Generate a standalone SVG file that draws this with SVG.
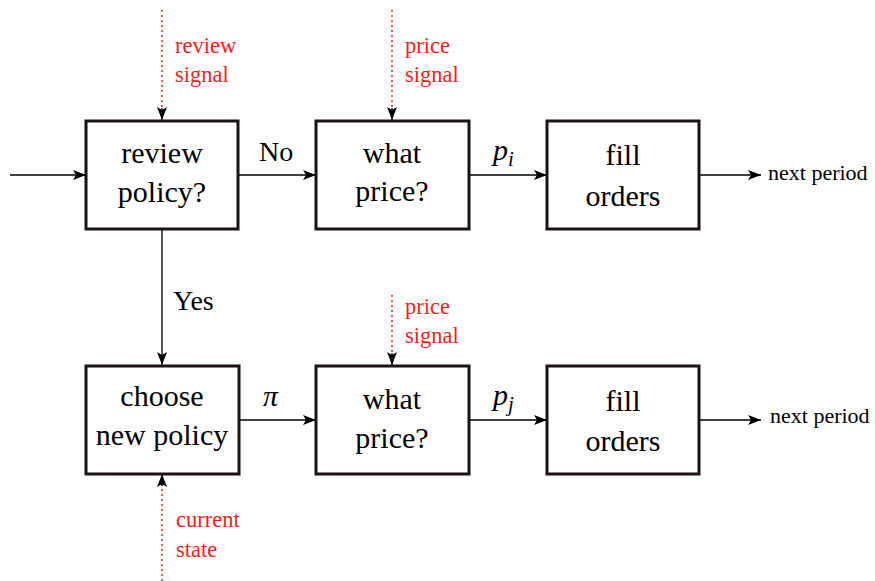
<svg xmlns="http://www.w3.org/2000/svg" width="875" height="581" viewBox="0 0 875 581">
<defs>
<marker id="ah" markerWidth="13" markerHeight="10" refX="13" refY="5" orient="auto" markerUnits="userSpaceOnUse">
<path d="M0,0 L13,5 L0,10 L3,5 Z" fill="#000"/>
</marker>
</defs>
<style>
text{font-family:'Liberation Serif','Times New Roman','DejaVu Serif',serif}
.box{fill:#fff;stroke:#1a1311;stroke-width:3}
.t{font-size:30px;fill:#000;text-anchor:middle}
.lbl{font-size:28px;fill:#000}
.m{font-style:italic;fill:#000}
.np{font-size:22px;fill:#000}
.red{font-size:22.5px;fill:#ff1a1a}
.c{stroke:#000;stroke-width:1.3;fill:none;marker-end:url(#ah)}
.d{stroke:#ff1a1a;stroke-width:1.5;stroke-dasharray:2,3;fill:none}
</style>
<g id="connectors">
<line class="c" x1="10" y1="175" x2="86" y2="175"/>
<line class="c" x1="238" y1="175" x2="316" y2="175"/>
<line class="c" x1="469" y1="175" x2="547" y2="175"/>
<line class="c" x1="699" y1="175" x2="761" y2="175"/>
<line class="c" x1="162" y1="229" x2="162" y2="365"/>
<line class="c" x1="239" y1="420" x2="316" y2="420"/>
<line class="c" x1="469" y1="420" x2="547" y2="420"/>
<line class="c" x1="699" y1="420" x2="761" y2="420"/>
<line class="d" x1="162" y1="10" x2="162" y2="110"/>
<line class="c" x1="162" y1="108" x2="162" y2="120" stroke="none"/>
<line class="d" x1="392" y1="10" x2="392" y2="110"/>
<line class="c" x1="392" y1="108" x2="392" y2="120" stroke="none"/>
<line class="d" x1="392" y1="295" x2="392" y2="355"/>
<line class="c" x1="392" y1="353" x2="392" y2="365" stroke="none"/>
<line class="d" x1="162" y1="581" x2="162" y2="484"/>
<line class="c" x1="162" y1="486" x2="162" y2="474" stroke="none"/>
<text class="lbl" x="259" y="161">No</text>
<text class="lbl" x="173" y="310">Yes</text>
<text class="m" x="263" y="406" font-size="30">π</text>
<text class="m" x="493" y="160" font-size="30">p<tspan font-size="21" dy="6">i</tspan></text>
<text class="m" x="493" y="405" font-size="30">p<tspan font-size="21" dy="6">j</tspan></text>
<text class="np" x="768" y="180">next period</text>
<text class="np" x="770" y="423">next period</text>
<text class="red" x="175" y="53">review</text>
<text class="red" x="175" y="82">signal</text>
<text class="red" x="405" y="53">price</text>
<text class="red" x="405" y="82">signal</text>
<text class="red" x="405" y="314">price</text>
<text class="red" x="405" y="343">signal</text>
<text class="red" x="176" y="527">current</text>
<text class="red" x="176" y="557">state</text>
</g>
<g id="review-policy">
<rect class="box" x="86" y="121" width="152" height="108"/>
<text class="t" x="162" y="163">review</text>
<text class="t" x="162" y="202">policy?</text>
</g>
<g id="what-price-1">
<rect class="box" x="316" y="121" width="153" height="108"/>
<text class="t" x="392" y="163">what</text>
<text class="t" x="392" y="201">price?</text>
</g>
<g id="fill-orders-1">
<rect class="box" x="547" y="121" width="152" height="108"/>
<text class="t" x="623" y="165">fill</text>
<text class="t" x="623" y="206">orders</text>
</g>
<g id="choose-new-policy">
<rect class="box" x="86" y="366" width="153" height="108"/>
<text class="t" x="162" y="406">choose</text>
<text class="t" x="162" y="445">new policy</text>
</g>
<g id="what-price-2">
<rect class="box" x="316" y="366" width="153" height="108"/>
<text class="t" x="392" y="409">what</text>
<text class="t" x="392" y="448">price?</text>
</g>
<g id="fill-orders-2">
<rect class="box" x="547" y="366" width="152" height="108"/>
<text class="t" x="623" y="411">fill</text>
<text class="t" x="623" y="451">orders</text>
</g>
</svg>
